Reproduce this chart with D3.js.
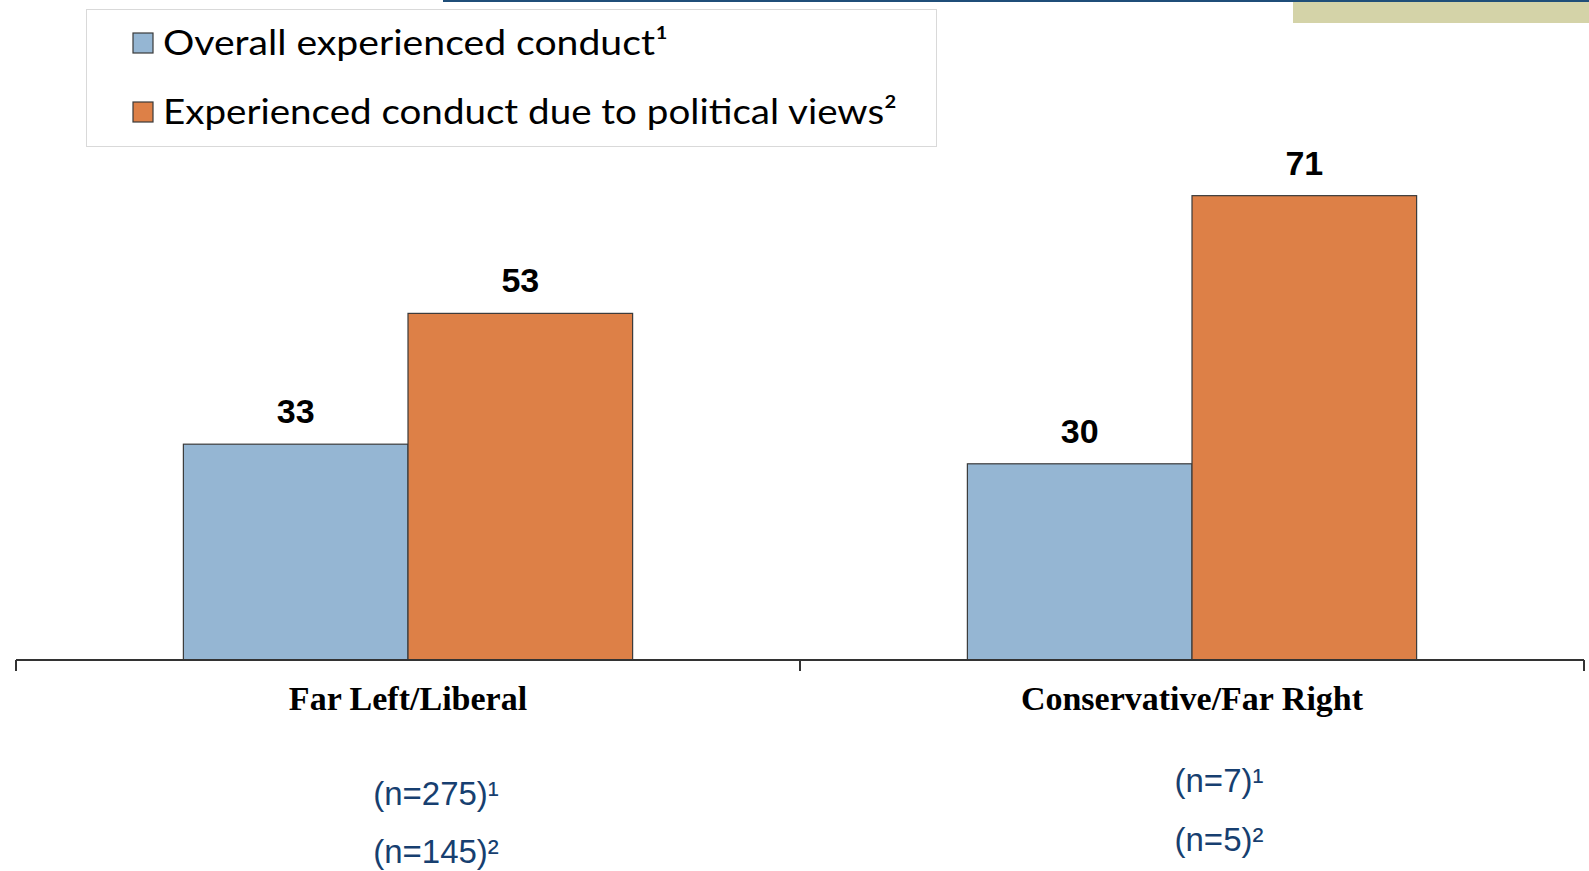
<!DOCTYPE html>
<html lang="en">
  <head>
    <meta charset="utf-8">
    <title>Experienced conduct by political views</title>
    <script src="https://cdn.jsdelivr.net/npm/d3@7"></script>
    <style>
      html, body { margin: 0; padding: 0; background: #fff; }
      svg { display: block; }
    </style>
  </head>
  <body>
    <div id="chart"></div>

    <script type="text/javascript">
      // data
      let categories = ['Far Left/Liberal', 'Conservative/Far Right'];
      let seriesNames = ['Overall experienced conduct', 'Experienced conduct due to political views'];
      let seriesMarks = ['\u00b9', '\u00b2'];
      let overall = [33, 30];
      let political = [53, 71];
      let sampleOverall = ['(n=275)\u00b9', '(n=7)\u00b9'];
      let samplePolitical = ['(n=145)\u00b2', '(n=5)\u00b2'];
      let colors = ['#95b6d3', '#dd8047'];

      let width = 1589, height = 871;
      let baseY = 660;

      let svg = d3.select('#chart').append('svg')
        .attr('width', width)
        .attr('height', height);

      // slide decoration at the top
      svg.append('rect')
        .attr('x', 1293).attr('y', 0)
        .attr('width', width - 1293).attr('height', 23)
        .attr('fill', '#d4d3a8');
      svg.append('rect')
        .attr('x', 443).attr('y', 0)
        .attr('width', width - 443).attr('height', 2)
        .attr('fill', '#1f4e79');

      let x0 = d3.scaleBand()
        .domain(categories)
        .range([16, 1584]);

      let x1 = d3.scaleBand()
        .domain(seriesNames)
        .range([x0.bandwidth() * 0.2135, x0.bandwidth() * 0.7865]);

      let y = d3.scaleLinear()
        .domain([0, 100])
        .range([baseY, 6]);

      let rows = categories.map((c, i) => ({
        cat: c,
        values: [
          { name: seriesNames[0], value: overall[i], color: colors[0] },
          { name: seriesNames[1], value: political[i], color: colors[1] }
        ]
      }));

      let groups = svg.selectAll('g.group')
        .data(rows)
        .enter()
        .append('g')
        .attr('class', 'group')
        .attr('transform', d => 'translate(' + x0(d.cat) + ',0)');

      groups.selectAll('rect')
        .data(d => d.values)
        .enter()
        .append('rect')
        .attr('x', d => x1(d.name))
        .attr('y', d => y(d.value))
        .attr('width', x1.bandwidth())
        .attr('height', d => baseY - y(d.value))
        .attr('fill', d => d.color)
        .attr('stroke', '#3a3a3a')
        .attr('stroke-width', 1.2);

      groups.selectAll('text.value')
        .data(d => d.values)
        .enter()
        .append('text')
        .attr('class', 'value')
        .attr('x', d => x1(d.name) + x1.bandwidth() / 2)
        .attr('y', d => y(d.value) - 21)
        .attr('text-anchor', 'middle')
        .attr('font-family', 'Liberation Sans, Arial, sans-serif')
        .attr('font-weight', 'bold')
        .attr('font-size', 34)
        .attr('fill', '#000')
        .text(d => d.value);

      // category axis
      let axis = svg.append('g').attr('stroke', '#333').attr('stroke-width', 2);
      axis.append('line')
        .attr('x1', x0.range()[0]).attr('x2', x0.range()[1])
        .attr('y1', baseY).attr('y2', baseY);
      let edges = categories.map(c => x0(c)).concat([x0.range()[1]]);
      axis.selectAll('line.tick')
        .data(edges)
        .enter()
        .append('line')
        .attr('class', 'tick')
        .attr('x1', d => d).attr('x2', d => d)
        .attr('y1', baseY).attr('y2', baseY + 11);

      svg.selectAll('text.cat')
        .data(categories)
        .enter()
        .append('text')
        .attr('class', 'cat')
        .attr('x', d => x0(d) + x0.bandwidth() / 2)
        .attr('y', 710)
        .attr('text-anchor', 'middle')
        .attr('font-family', 'Liberation Serif, Times New Roman, serif')
        .attr('font-weight', 'bold')
        .attr('font-size', 34)
        .attr('fill', '#000')
        .text(d => d);

      // sample sizes
      let nOffset = [28, 27];
      let nY1 = [805, 792];
      let nY2 = [863, 851];
      categories.forEach((c, i) => {
        let cx = x0(c) + x0.bandwidth() / 2 + nOffset[i];
        svg.append('text')
          .attr('x', cx).attr('y', nY1[i])
          .attr('text-anchor', 'middle')
          .attr('font-family', 'Liberation Sans, Arial, sans-serif')
          .attr('font-size', 33)
          .attr('fill', '#173f70')
          .text(sampleOverall[i]);
        svg.append('text')
          .attr('x', cx).attr('y', nY2[i])
          .attr('text-anchor', 'middle')
          .attr('font-family', 'Liberation Sans, Arial, sans-serif')
          .attr('font-size', 33)
          .attr('fill', '#173f70')
          .text(samplePolitical[i]);
      });

      // legend
      let legend = svg.append('g');
      legend.append('rect')
        .attr('x', 86.5).attr('y', 9.5)
        .attr('width', 850).attr('height', 137)
        .attr('fill', '#fff')
        .attr('stroke', '#d9d9d9')
        .attr('stroke-width', 1);

      let legendY = [55, 124];
      let legendLen = [505, 734];
      let items = legend.selectAll('g.item')
        .data(seriesNames)
        .enter()
        .append('g')
        .attr('class', 'item')
        .attr('transform', (d, i) => 'translate(0,' + legendY[i] + ')');

      items.append('rect')
        .attr('x', 133).attr('y', -22)
        .attr('width', 20).attr('height', 20)
        .attr('fill', (d, i) => colors[i])
        .attr('stroke', '#3a3a3a')
        .attr('stroke-width', 1.2);

      items.append('text')
        .attr('x', 163).attr('y', 0)
        .attr('font-family', 'Century Gothic, Lato, sans-serif')
        .attr('font-size', 34)
        .attr('fill', '#000')
        .attr('textLength', (d, i) => legendLen[i])
        .attr('lengthAdjust', 'spacingAndGlyphs')
        .text((d, i) => d + seriesMarks[i]);
    </script>
  </body>
</html>
